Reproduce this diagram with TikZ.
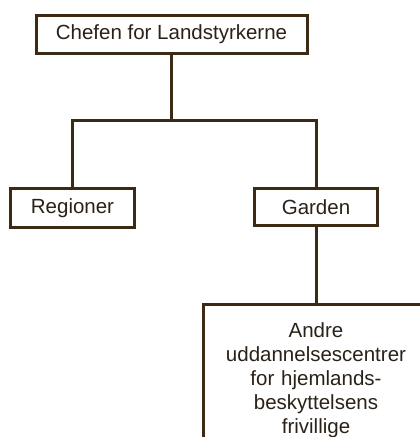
\documentclass[tikz,border=0pt]{standalone}
\usepackage{fontspec}
\setmainfont{Liberation Sans}
\definecolor{linebrown}{HTML}{3C2A14}
\definecolor{textcol}{HTML}{2A2218}
\begin{document}
\begin{tikzpicture}[x=1pt,y=-1pt,
  box/.style={draw=linebrown, line width=3pt, fill=white, inner sep=0pt,
    font=\fontsize{20.5}{24}\selectfont, text=textcol},
  conn/.style={draw=linebrown, line width=3pt}]
\useasboundingbox (0,0) rectangle (420,437);
\clip (0,0) rectangle (420,437);
\fill[white] (0,0) rectangle (420,437);
\node[box, minimum width=271pt, minimum height=38pt] (chef) at (171.5,34) {Chefen for Landstyrkerne};
\node[box, minimum width=124pt, minimum height=39pt] (reg) at (72.5,208) {Regioner};
\node[box, minimum width=123pt, minimum height=37pt] (gard) at (316,207) {Garden};
\node[box, anchor=north, text width=226pt, align=center, inner ysep=18pt] (andre) at (316,303)
  {Andre\\uddannelsescentrer\\for hjemlands-\\beskyttelsens\\frivillige};
\coordinate (split) at (171.5,120);
\draw[conn] (chef.south) -- (split);
\draw[conn] (reg.north) |- (gard.north |- split) -- (gard.north);
\draw[conn] (gard.south) -- (andre.north);
\end{tikzpicture}
\end{document}
